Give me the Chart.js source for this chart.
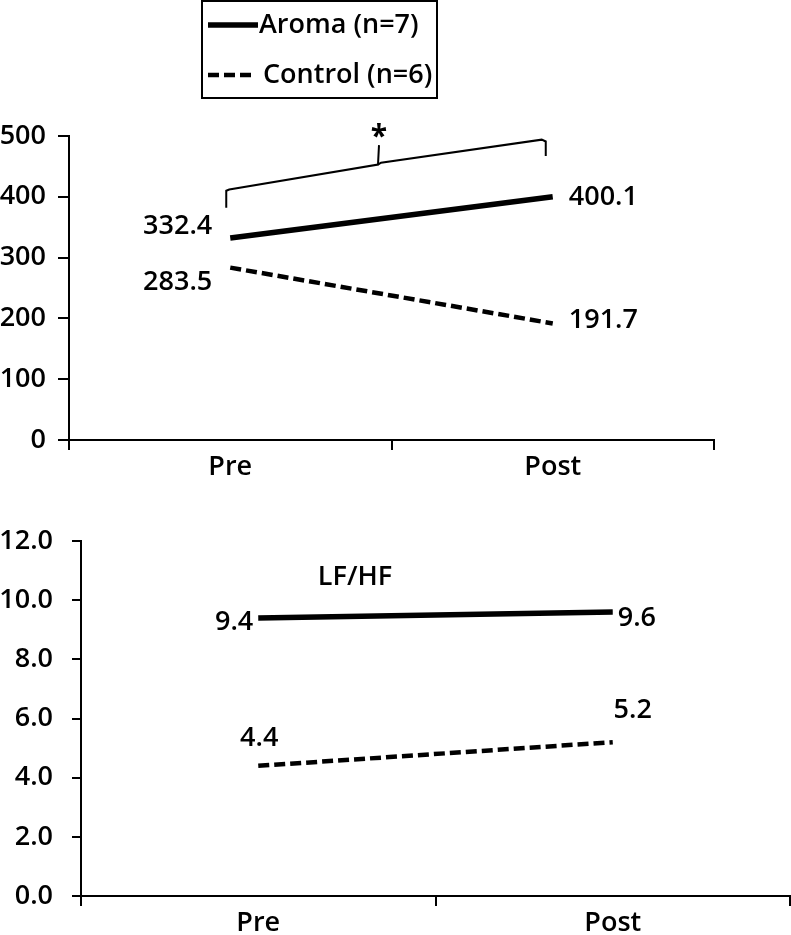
<!DOCTYPE html>
<html>
<head>
<meta charset="utf-8">
<script src="https://cdn.jsdelivr.net/npm/chart.js@4/dist/chart.umd.min.js"></script>
<style>
  body { margin: 0; background: #fff; width: 791px; height: 935px; overflow: hidden; }
  canvas { position: absolute; left: 0; }
  #hrChart { top: 0; }
  #lfhfChart { top: 500px; }
</style>
</head>
<body>
<canvas id="hrChart" width="791" height="500"></canvas>
<canvas id="lfhfChart" width="791" height="435"></canvas>
<script>
// data
const phases = ['Pre', 'Post'];
const groupNames = ['Aroma (n=7)', 'Control (n=6)'];
const hrAroma = [332.4, 400.1];
const hrControl = [283.5, 191.7];
const lfhfAroma = [9.4, 9.6];
const lfhfControl = [4.4, 5.2];
const hrTicks = [0, 100, 200, 300, 400, 500];
const lfhfTicks = [0, 2, 4, 6, 8, 10, 12];
const lfhfTitle = 'LF/HF';
const sigMark = '*';

const FONT = '"Open Sans", "DejaVu Sans", sans-serif';
const WEIGHT = '600';
const SIZE = 27;
const DASH = [11, 5];

// where each value label sits relative to its point [dataset][point]
const hrLabelPos = [
  [{ align: 'right', dx: -18, dy: -12 }, { align: 'left', dx: 16, dy: 1 }],
  [{ align: 'right', dx: -18, dy: 15 }, { align: 'left', dx: 16, dy: -3 }]
];
const lfhfLabelPos = [
  [{ align: 'right', dx: -5, dy: 4 }, { align: 'left', dx: 5, dy: 6 }],
  [{ align: 'center', dx: 1, dy: -28 }, { align: 'center', dx: 20, dy: -32 }]
];

function makeDatasets(aroma, control) {
  return [
    { label: groupNames[0], data: aroma, borderColor: '#000', borderWidth: 5.5,
      pointRadius: 0, tension: 0, fill: false },
    { label: groupNames[1], data: control, borderColor: '#000', borderWidth: 4.5,
      borderDash: DASH, pointRadius: 0, tension: 0, fill: false }
  ];
}

const valueLabels = {
  id: 'valueLabels',
  afterDatasetsDraw(chart, args, opts) {
    const ctx = chart.ctx;
    ctx.save();
    ctx.fillStyle = '#000';
    ctx.font = WEIGHT + ' ' + SIZE + 'px ' + FONT;
    ctx.textBaseline = 'middle';
    chart.data.datasets.forEach((ds, i) => {
      const meta = chart.getDatasetMeta(i);
      meta.data.forEach((pt, j) => {
        const p = opts.pos[i][j];
        ctx.textAlign = p.align;
        ctx.fillText(ds.data[j].toFixed(1), pt.x + p.dx, pt.y + p.dy);
      });
    });
    ctx.restore();
  }
};

function axisOpts(ticks, fmt, tickLen, pad, yWidth, xHeight) {
  const f = { family: FONT, size: SIZE, weight: WEIGHT };
  return {
    x: {
      type: 'category', offset: true,
      grid: { offset: true, drawOnChartArea: false, color: '#000', lineWidth: 2, tickLength: 10 },
      border: { color: '#000', width: 2 },
      ticks: { color: '#000', font: f, padding: 1, maxRotation: 0 },
      afterFit(s) { s.height = xHeight; }
    },
    y: {
      min: ticks[0], max: ticks[ticks.length - 1],
      afterBuildTicks(s) { s.ticks = ticks.map(v => ({ value: v })); },
      grid: { drawOnChartArea: false, color: '#000', lineWidth: 2, tickLength: tickLen },
      border: { color: '#000', width: 2 },
      ticks: { color: '#000', font: f, padding: pad, callback: fmt },
      afterFit(s) { s.width = yWidth; }
    }
  };
}

// legend box + significance bracket on the top chart
const hrExtras = {
  id: 'hrExtras',
  afterDraw(chart) {
    const ctx = chart.ctx;
    const xs = chart.scales.x, ys = chart.scales.y;
    ctx.save();
    ctx.strokeStyle = '#000';
    ctx.fillStyle = '#000';

    // legend
    ctx.lineWidth = 2;
    ctx.strokeRect(202, 1, 235, 97);
    ctx.font = WEIGHT + ' 27px ' + FONT;
    ctx.textAlign = 'left';
    ctx.textBaseline = 'middle';
    chart.data.datasets.forEach((ds, i) => {
      const y = 25 + i * 50;
      ctx.lineWidth = ds.borderWidth;
      ctx.setLineDash(ds.borderDash || []);
      ctx.beginPath();
      ctx.moveTo(208, y);
      ctx.lineTo(i ? 256 : 258, y);
      ctx.stroke();
      ctx.fillText(ds.label, i ? 263 : 259, y);
    });
    ctx.setLineDash([]);

    // bracket between Pre and Post
    const x0 = xs.getPixelForValue(0) - 4;
    const x1 = xs.getPixelForValue(1) - 7;
    const xm = (x0 + x1) / 2 - 8;
    ctx.lineWidth = 2;
    ctx.beginPath();
    ctx.moveTo(x0, ys.getPixelForValue(382));
    ctx.lineTo(x0, ys.getPixelForValue(410));
    ctx.lineTo(x0 + 3, ys.getPixelForValue(412));
    ctx.lineTo(xm, ys.getPixelForValue(453));
    ctx.lineTo(xm + 1, ys.getPixelForValue(485));
    ctx.moveTo(xm, ys.getPixelForValue(453));
    ctx.lineTo(xm + 3, ys.getPixelForValue(456));
    ctx.lineTo(x1 - 4, ys.getPixelForValue(494));
    ctx.lineTo(x1, ys.getPixelForValue(491));
    ctx.lineTo(x1, ys.getPixelForValue(467));
    ctx.stroke();
    ctx.font = 'bold 30px ' + FONT;
    ctx.textAlign = 'center';
    ctx.fillText(sigMark, xm + 1, ys.getPixelForValue(505) + 4);
    ctx.restore();
  }
};

const lfhfExtras = {
  id: 'lfhfExtras',
  afterDraw(chart) {
    const ctx = chart.ctx;
    ctx.save();
    ctx.fillStyle = '#000';
    ctx.font = WEIGHT + ' 27px ' + FONT;
    ctx.textAlign = 'center';
    ctx.textBaseline = 'middle';
    ctx.fillText(lfhfTitle, 355, 77);
    ctx.restore();
  }
};

new Chart(document.getElementById('hrChart'), {
  type: 'line',
  data: { labels: phases, datasets: makeDatasets(hrAroma, hrControl) },
  options: {
    responsive: false, animation: false,
    layout: { padding: { top: 136, right: 77, left: 0, bottom: 0 } },
    plugins: { legend: { display: false }, tooltip: { enabled: false }, valueLabels: { pos: hrLabelPos } },
    scales: axisOpts(hrTicks, v => String(v), 11, 12, 69, 60)
  },
  plugins: [valueLabels, hrExtras]
});

new Chart(document.getElementById('lfhfChart'), {
  type: 'line',
  data: { labels: phases, datasets: makeDatasets(lfhfAroma, lfhfControl) },
  options: {
    responsive: false, animation: false,
    layout: { padding: { top: 41, right: 1, left: 0, bottom: 0 } },
    plugins: { legend: { display: false }, tooltip: { enabled: false }, valueLabels: { pos: lfhfLabelPos } },
    scales: axisOpts(lfhfTicks, v => Number(v).toFixed(1), 9, 19, 81, 39)
  },
  plugins: [valueLabels, lfhfExtras]
});
</script>
</body>
</html>
